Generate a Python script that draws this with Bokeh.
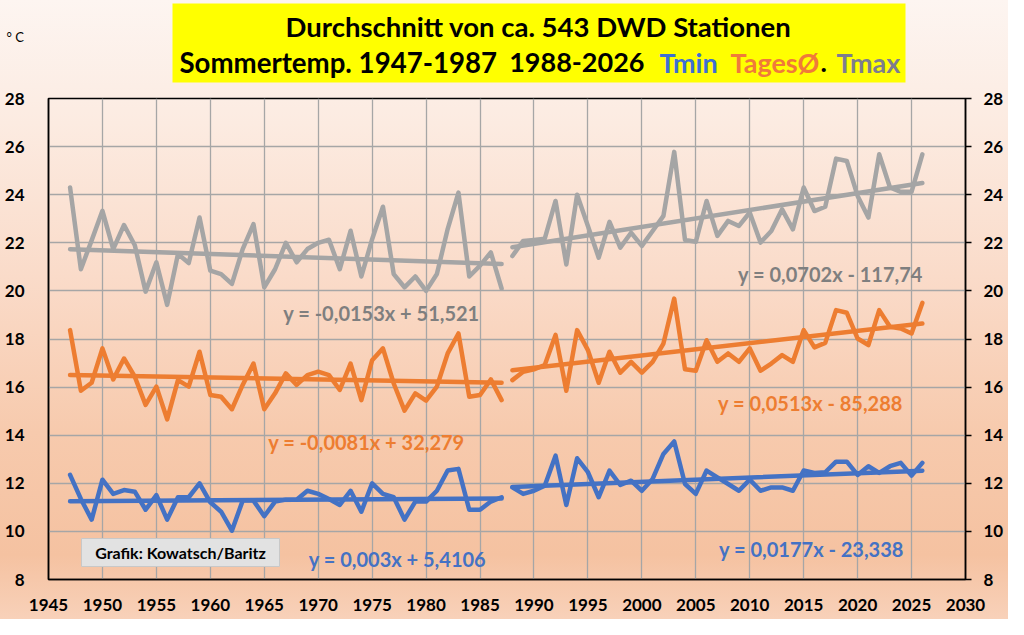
from bokeh.plotting import figure
from bokeh.models import Range1d, LinearAxis, FixedTicker, Label
from bokeh.core.properties import value
from bokeh.embed import file_html
from bokeh.resources import INLINE

# ---------------- data ----------------
years_a = list(range(1947, 1988))
years_b = list(range(1988, 2027))

tmax_a = [24.3, 20.9, 22.1, 23.33, 21.74, 22.74, 21.9, 19.97, 21.19, 19.42,
          21.53, 21.16, 23.05, 20.84, 20.7, 20.29, 21.74, 22.78, 20.15, 20.9,
          22.0, 21.19, 21.74, 22.0, 22.13, 20.9, 22.5, 20.6, 22.15, 23.5,
          20.7, 20.15, 20.6, 20.0, 20.7, 22.57, 24.09, 20.6, 21.05, 21.6, 20.1]
tmax_b = [21.45, 22.08, 22.12, 22.17, 23.74, 21.1, 24.0, 22.7, 21.38, 22.87,
          21.8, 22.42, 21.87, 22.49, 23.12, 25.78, 22.12, 22.04, 23.74, 22.29,
          22.91, 22.7, 23.26, 22.01, 22.49, 23.39, 22.56, 24.3, 23.32, 23.5,
          25.5, 25.4, 23.95, 23.05, 25.68, 24.3, 24.12, 24.12, 25.68]

tavg_a = [18.37, 15.85, 16.18, 17.61, 16.32, 17.19, 16.43, 15.26, 16.02, 14.66,
          16.29, 16.02, 17.47, 15.67, 15.6, 15.08, 16.09, 16.98, 15.08, 15.74,
          16.57, 16.09, 16.5, 16.64, 16.5, 15.88, 16.98, 15.46, 17.12, 17.61,
          16.15, 15.02, 15.74, 15.44, 16.02, 17.4, 18.23, 15.6, 15.67, 16.32, 15.46]
tavg_b = [16.29, 16.64, 16.74, 16.92, 18.17, 15.85, 18.37, 17.54, 16.18, 17.47,
          16.6, 17.05, 16.6, 17.05, 17.81, 19.68, 16.74, 16.68, 17.95, 17.05,
          17.4, 17.05, 17.61, 16.68, 16.98, 17.33, 17.05, 18.37, 17.65, 17.84,
          19.2, 19.09, 18.02, 17.75, 19.2, 18.51, 18.44, 18.23, 19.5]

tmin_a = [12.35, 11.35, 10.49, 12.15, 11.56, 11.72, 11.65, 10.9, 11.51, 10.49,
          11.42, 11.42, 12.0, 11.21, 10.82, 10.03, 11.28, 11.28, 10.63, 11.24,
          11.32, 11.32, 11.69, 11.56, 11.35, 11.1, 11.69, 10.82, 12.0, 11.56,
          11.42, 10.49, 11.24, 11.24, 11.69, 12.53, 12.6, 10.9, 10.9, 11.24, 11.42]
tmin_b = [11.83, 11.56, 11.69, 11.9, 13.15, 11.1, 13.04, 12.46, 11.42, 12.53,
          11.93, 12.11, 11.69, 12.18, 13.22, 13.74, 11.97, 11.56, 12.53, 12.25,
          11.97, 11.69, 12.15, 11.69, 11.83, 11.83, 11.69, 12.53, 12.43, 12.46,
          12.9, 12.9, 12.35, 12.71, 12.43, 12.71, 12.85, 12.32, 12.85]

# trend lines (Tmax, TagesØ, Tmin) as printed in the chart
trend_slope_a = [-0.0153, -0.0081, 0.003]
trend_icpt_a = [51.521, 32.279, 5.4106]
trend_slope_b = [0.0702, 0.0513, 0.0177]
trend_icpt_b = [-117.74, -85.288, -23.338]
trend_text_a = ["y = -0,0153x + 51,521", "y = -0,0081x + 32,279", "y = 0,003x + 5,4106"]
trend_text_b = ["y = 0,0702x - 117,74", "y = 0,0513x - 85,288", "y = 0,0177x - 23,338"]

x_ticks = [1945, 1950, 1955, 1960, 1965, 1970, 1975, 1980, 1985, 1990,
           1995, 2000, 2005, 2010, 2015, 2020, 2025, 2030]
y_ticks = [8, 10, 12, 14, 16, 18, 20, 22, 24, 26, 28]

title_line1 = "Durchschnitt von ca. 543 DWD Stationen"
title_line2a = "Sommertemp. 1947-1987"
title_line2b = "1988-2026"
title_words = ["Tmin", "TagesØ", ".", "Tmax"]
credit = "Grafik: Kowatsch/Baritz"
unit_label = "° C"

# ---------------- style ----------------
FONT = "Lato"
C_MAX, C_AVG, C_MIN = "#a5a5a5", "#ed7d31", "#4472c4"
C_MAX_TXT = "#7f7f7f"
OFF = 8                               # page margin
PAGE_W, PAGE_H = 1024, 635
W = PAGE_W - 2 * OFF
SPLIT = 94                            # page y where header ends and chart begins
HDR_H = SPLIT - OFF
MAIN_H = PAGE_H - OFF - SPLIT
FL, FR, FT, FB = 56, 973, 106, 587    # frame edges in page pixels
X0, X1, Y0, Y1 = 1945, 2030, 8, 28


def hx(px):
    return px - OFF


def hy(py):
    return SPLIT - py


def sx(px):
    return px - FL


def sy(py):
    return FB - py


def dx(px):
    return X0 + (px - FL) * (X1 - X0) / (FR - FL)


def dy(py):
    return Y1 - (py - FT) * (Y1 - Y0) / (FB - FT)


# ---------------- header (title box) ----------------
hdr = figure(width=W, height=HDR_H, x_range=Range1d(0, W), y_range=Range1d(0, HDR_H),
             output_backend="svg", toolbar_location=None,
             x_axis_location=None, y_axis_location=None, min_border=0)
hdr.grid.visible = False
hdr.outline_line_color = None
hdr.background_fill_alpha = 0
hdr.border_fill_alpha = 0
hdr.styles = {"background": "linear-gradient(to bottom, #fdf5f1 0%, #fceee6 100%)"}

TKW = dict(text_font=value(FONT), text_font_style="bold", text_baseline="middle")
hdr.quad(left=[hx(180)], right=[hx(913)], top=[hy(11)], bottom=[hy(90)],
         fill_color="#ffff00", line_color=None)
hdr.text(x=[hx(546)], y=[hy(34)], text=[title_line1], text_align="center",
         text_font_size="27.5px", text_color="black", **TKW)
hdr.text(x=[hx(187)], y=[hy(70)], text=[title_line2a], text_align="left",
         text_font_size="27.6px", text_color="black", **TKW)
hdr.text(x=[hx(652)], y=[hy(70)], text=[title_line2b], text_align="right",
         text_font_size="27px", text_color="black", **TKW)
word_x = [667, 738, 828, 844]
word_c = ["#3d6fd3", "#f07a3a", "black", "#7d7d8e"]
hdr.text(x=[hx(v) for v in word_x], y=[hy(70)] * len(word_x), text=title_words,
         text_align="left", text_font_size="27px", text_color=word_c, **TKW)
hdr.text(x=[hx(14)], y=[hy(44)], text=[unit_label], text_align="left",
         text_baseline="middle", text_font=value(FONT), text_font_size="13px",
         text_color="black")

# ---------------- main chart ----------------
p = figure(width=W, height=MAIN_H, x_range=Range1d(X0, X1), y_range=Range1d(Y0, Y1),
           output_backend="svg", toolbar_location=None,
           min_border_left=FL - OFF, min_border_right=(PAGE_W - OFF) - FR,
           min_border_top=FT - SPLIT, min_border_bottom=(PAGE_H - OFF) - FB)
p.background_fill_alpha = 0
p.border_fill_alpha = 0
p.outline_line_color = "black"
p.outline_line_width = 1.5
p.styles = {"background": "linear-gradient(to bottom, #fceee6 0%, #fcebe1 7%, "
                          "#fadbc9 36%, #f7caad 65%, #f5c2a1 88%, #f8d1b9 100%)"}

for ax in (p.xaxis, p.yaxis):
    ax.axis_line_color = "black"
    ax.axis_line_width = 1.5
    ax.major_tick_line_color = None
    ax.minor_tick_line_color = None
    ax.major_label_text_font = FONT
    ax.major_label_text_font_style = "bold"
    ax.major_label_text_font_size = "17px"
    ax.major_label_text_color = "black"
p.xaxis.ticker = FixedTicker(ticks=x_ticks)
p.yaxis.ticker = FixedTicker(ticks=y_ticks)
p.xaxis.major_label_standoff = 13
p.yaxis.major_label_standoff = 18

ry = LinearAxis(ticker=FixedTicker(ticks=y_ticks))
ry.axis_line_color = "black"
ry.axis_line_width = 1.5
ry.major_tick_line_color = "black"
ry.major_tick_line_width = 1.5
ry.major_tick_out = 6
ry.major_tick_in = 0
ry.minor_tick_line_color = None
ry.major_label_standoff = 12
ry.major_label_text_font = FONT
ry.major_label_text_font_style = "bold"
ry.major_label_text_font_size = "17px"
ry.major_label_text_color = "black"
p.add_layout(ry, "right")

p.xgrid.ticker = FixedTicker(ticks=x_ticks)
p.ygrid.ticker = FixedTicker(ticks=y_ticks)
for g in (p.xgrid, p.ygrid):
    g.grid_line_color = "#a6a6a6"
    g.grid_line_width = 1.3

series = [(tmax_a, tmax_b, C_MAX), (tavg_a, tavg_b, C_AVG), (tmin_a, tmin_b, C_MIN)]
for i, (va, vb, col) in enumerate(series):
    p.line(years_a, va, line_color=col, line_width=4.5, line_join="round", line_cap="round")
    p.line(years_b, vb, line_color=col, line_width=4.5, line_join="round", line_cap="round")
    xa = [years_a[0], years_a[-1]]
    xb = [years_b[0], years_b[-1]]
    p.line(xa, [trend_slope_a[i] * x + trend_icpt_a[i] for x in xa],
           line_color=col, line_width=4.5, line_cap="round")
    p.line(xb, [trend_slope_b[i] * x + trend_icpt_b[i] for x in xb],
           line_color=col, line_width=4.5, line_cap="round")


def screen_label(px, py, text, **kw):
    p.add_layout(Label(x=sx(px), y=sy(py), x_units="screen", y_units="screen",
                       text=text, text_font=FONT, **kw))


eq_cols = [C_MAX_TXT, C_AVG, C_MIN]
eq_pos_a = [(389, 320), (374, 449), (405, 566)]
eq_pos_b = [(838, 281), (818, 410), (819, 556)]
for i in range(3):
    for txt, (ex, ey) in ((trend_text_a[i], eq_pos_a[i]), (trend_text_b[i], eq_pos_b[i])):
        screen_label(ex, ey, txt, text_align="center", text_baseline="middle",
                     text_font_style="bold", text_font_size="20px", text_color=eq_cols[i])

# credit box
p.quad(left=[dx(89)], right=[dx(287)], top=[dy(546)], bottom=[dy(574)],
       fill_color="#e2e2e2", line_color="#c8c8c8", line_width=1)
screen_label(188, 560, credit, text_align="center", text_baseline="middle",
             text_font_style="bold", text_font_size="16px", text_color="black")

open("out.html", "w").write(file_html([hdr, p], INLINE))
